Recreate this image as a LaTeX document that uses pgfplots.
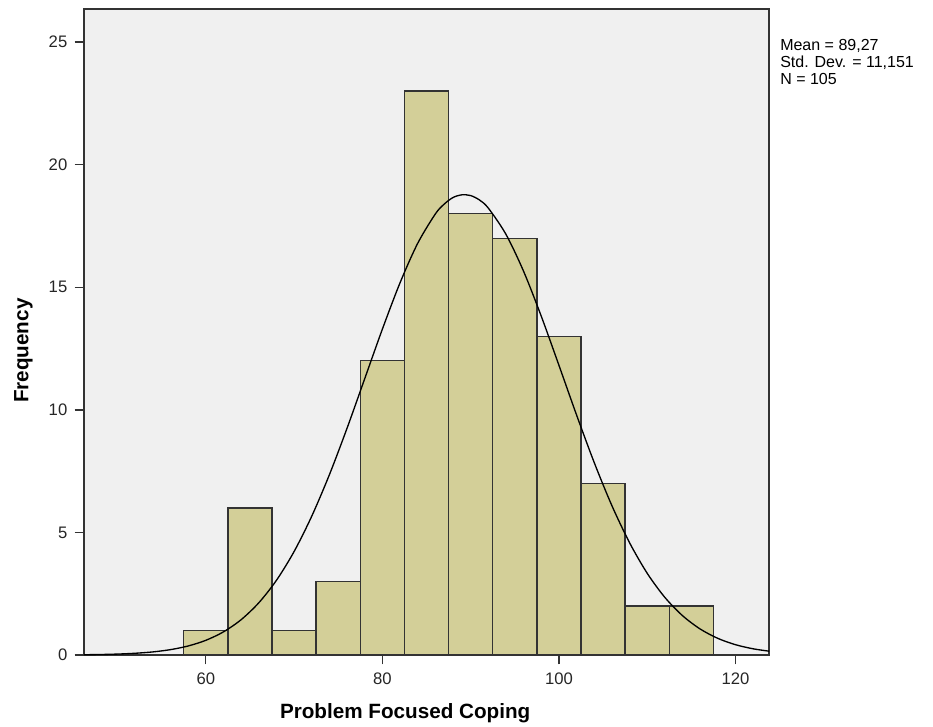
\documentclass[border=0pt]{standalone}
\usepackage{pgfplots}
\pgfplotsset{compat=1.18}
\usepackage{fontspec}
\setmainfont{Liberation Sans}
\definecolor{barfill}{RGB}{211,207,152}
\definecolor{plotbg}{RGB}{240,240,240}

\begin{document}
\begin{tikzpicture}
  \path[use as bounding box] (-63pt,-53.25pt) rectangle (636.75pt,491.25pt);
  \begin{axis}[
      scale only axis,
      width=513.75pt,
      height=484.5pt,
      xmin=46.2, xmax=123.8,
      ymin=0, ymax=26.35,
      xtick={60,80,100,120},
      ytick={0,5,10,15,20,25},
      tick align=outside,
      xtick pos=bottom,
      ytick pos=left,
      major tick length=7pt,
      tick style={black!80, line width=1pt},
      axis line style={black!80, line width=1pt},
      axis background/.style={fill=plotbg},
      ticklabel style={font=\fontsize{12.5}{14}\selectfont, text=black!85},
      /pgf/number format/assume math mode=true,
      xticklabel style={yshift=-3pt},
      yticklabel style={xshift=-2pt},
      xlabel={\bfseries Problem Focused Coping},
      ylabel={\bfseries Frequency},
      label style={font=\fontsize{15.5}{18}\selectfont},
      xlabel style={at={(rel axis cs:0.5,0)}, anchor=north, yshift=-33pt, xshift=-16pt},
      ylabel style={at={(rel axis cs:0,0.5)}, anchor=south, xshift=-14pt, yshift=35pt},
      clip=true,
    ]
    \addplot[ybar interval, fill=barfill, draw=black!80, line width=1pt]
      coordinates {
        (57.5,1) (62.5,6) (67.5,1) (72.5,3) (77.5,12) (82.5,23)
        (87.5,18) (92.5,17) (97.5,13) (102.5,7) (107.5,2) (112.5,2)
        (117.5,0)
      };
    \addplot[black, line width=1pt, smooth, no markers]
      coordinates {
        (46,0.010) (48,0.020) (50,0.038) (52,0.071) (54,0.126) (56,0.219)
        (58,0.368) (60,0.599) (62,0.944) (64,1.440) (66,2.129) (68,3.046)
        (70,4.220) (72,5.662) (74,7.354) (76,9.251) (78,11.27) (80,13.29)
        (82,15.18) (84,16.79) (86,17.99) (87,18.39) (88,18.66) (89,18.77)
        (90,18.74) (91,18.56)
        (92,18.23) (94,17.16) (96,15.65) (98,13.82) (100,11.82) (102,9.79)
        (104,7.85) (106,6.094) (108,4.582) (110,3.335) (112,2.351) (114,1.606)
        (116,1.061) (118,0.679) (120,0.421) (122,0.253) (124,0.147)
      };
  \end{axis}
  \node[anchor=north west, inner sep=0pt, align=left,
        font=\fontsize{12}{12.6}\selectfont]
    at (522pt,462pt) {Mean = 89,27\\Std. Dev. = 11,151\\N = 105};
\end{tikzpicture}
\end{document}
